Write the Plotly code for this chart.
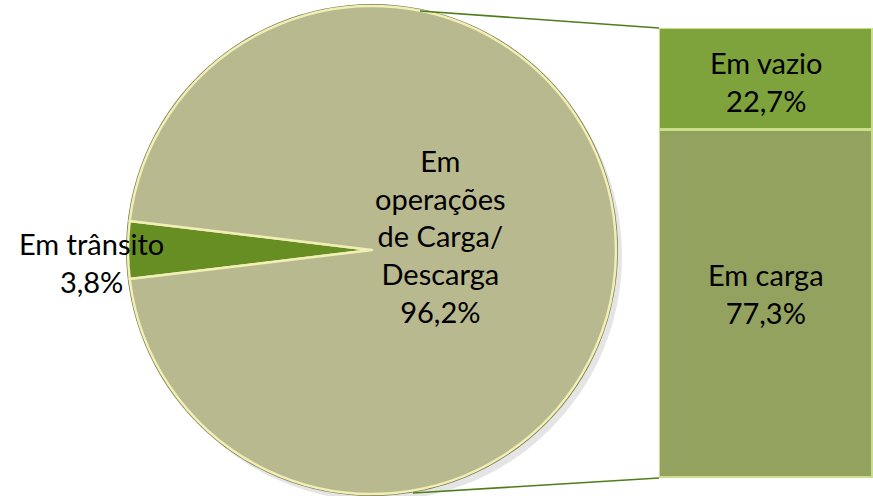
import plotly.graph_objects as go

# ---- data ----
pie_labels = ["Em trânsito", "Em operações de Carga/ Descarga"]
pie_values = [3.8, 96.2]
pie_label_lines = [["Em trânsito"], ["Em", "operações", "de Carga/", "Descarga"]]
pie_colors = ["#678e23", "#b8b98f"]

bar_labels = ["Em carga", "Em vazio"]
bar_values = [77.3, 22.7]
bar_colors = ["#94a260", "#7ea33c"]

W, H = 873, 496
FONT = "Lato"
FS = 29

# pie geometry (pixels)
cx, cy, r = 372, 250, 244
pie_dom_x = [(cx - r) / W, (cx + r) / W]
pie_dom_y = [(H - cy - r) / H, (H - cy + r) / H]

# bar geometry (pixels)
bx0, by0, by1 = 659, 28, 478

fig = go.Figure()

# rotation so that first slice (Em trânsito) is centred at 9 o'clock
rot = 270 - pie_values[0] / sum(pie_values) * 360 / 2

fig.add_trace(go.Pie(
    labels=pie_labels, values=pie_values, sort=False, direction="clockwise",
    rotation=rot, textinfo="none", hoverinfo="label+percent",
    marker=dict(colors=pie_colors, line=dict(color="#f2efb6", width=2.5)),
    domain=dict(x=pie_dom_x, y=pie_dom_y), showlegend=False,
))

for lab, val, col in zip(bar_labels, bar_values, bar_colors):
    fig.add_trace(go.Bar(
        x=[0], y=[val], name=lab, marker=dict(color=col, line=dict(color="#c9df8c", width=3)),
        hoverinfo="name+y", showlegend=False, xaxis="x", yaxis="y",
    ))

fig.update_layout(
    width=W, height=H, margin=dict(l=0, r=0, t=0, b=0),
    paper_bgcolor="white", plot_bgcolor="rgba(0,0,0,0)",
    barmode="stack", bargap=0, separators=",.",
    xaxis=dict(domain=[bx0 / W, 1], range=[-0.5, 0.5], visible=False, fixedrange=True),
    yaxis=dict(domain=[(H - by1) / H, (H - by0) / H], range=[0, 100], visible=False, fixedrange=True),
    font=dict(family=FONT, size=FS, color="black"),
)

# bar labels (centred in each stacked segment, data coordinates)
shifts = [11, -2]
base = 0
for lab, val, sh in zip(bar_labels, bar_values, shifts):
    fig.add_annotation(x=0, y=base + val / 2, xref="x", yref="y",
                       xanchor="center", yanchor="middle", yshift=sh,
                       text=f"{lab}<br>{val:.1f}%".replace(".", ","), showarrow=False,
                       align="center", font=dict(family=FONT, size=FS, color="black"))
    base += val

# pie rim and shadow (decoration)
def circ(rr, dx, dy, fill):
    return dict(type="circle", xref="paper", yref="paper", layer="below",
                x0=(cx - rr + dx) / W, x1=(cx + rr + dx) / W,
                y0=(H - cy - rr - dy) / H, y1=(H - cy + rr - dy) / H,
                fillcolor=fill, line=dict(width=0))

fig.add_shape(**circ(r + 1, 5, 6, "rgba(0,0,0,0.10)"))
fig.add_shape(**circ(r + 2, 0, 0, "#7d7c52"))

# connector lines
fig.add_shape(type="line", xref="paper", yref="paper",
              x0=420 / W, y0=(H - 11) / H, x1=bx0 / W, y1=(H - by0) / H,
              line=dict(color="#4f7d1a", width=1.6))
fig.add_shape(type="line", xref="paper", yref="paper",
              x0=413 / W, y0=(H - 493) / H, x1=bx0 / W, y1=(H - by1) / H,
              line=dict(color="#4f7d1a", width=1.6))

# pie labels
pct = [f"{v:.1f}%".replace(".", ",") for v in pie_values]
fig.add_annotation(x=91 / W, y=(H - 262) / H, xref="paper", yref="paper",
                   xanchor="center", yanchor="middle",
                   text="<br>".join(pie_label_lines[0] + [pct[0]]), showarrow=False,
                   align="center", font=dict(family=FONT, size=FS, color="black"))
fig.add_annotation(x=440 / W, y=(H - 236) / H, xref="paper", yref="paper",
                   xanchor="center", yanchor="middle",
                   text="<br>".join(pie_label_lines[1] + [pct[1]]), showarrow=False,
                   align="center", font=dict(family=FONT, size=FS, color="black"))

fig.write_html("out.html", config={"displayModeBar": False},
               post_script="document.body.style.margin='0';")
